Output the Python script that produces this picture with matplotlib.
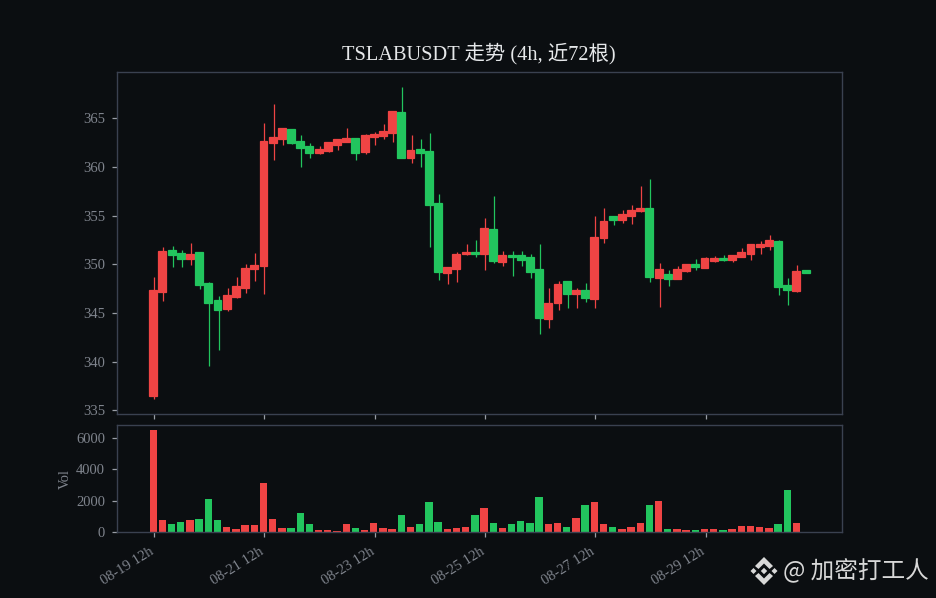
import matplotlib
matplotlib.use("Agg")
import matplotlib.pyplot as plt
from matplotlib.patches import Polygon
from matplotlib.transforms import ScaledTranslation

plt.rcParams['font.family'] = ['Liberation Serif', 'Noto Sans CJK SC', 'DejaVu Sans']

title = "TSLABUSDT 走势 (4h, 近72根)"
opens = [336.51,347.19,351.47,351.16,350.55,351.27,348.08,346.34,345.41,346.64,347.57,349.52,349.83,362.47,362.88,363.9,362.67,362.16,361.44,361.64,362.26,362.57,362.98,361.54,
         363.08,363.18,363.49,365.65,360.92,361.85,361.64,356.3,349.11,349.52,351.06,351.27,351.06,353.63,350.24,350.96,350.96,350.75,349.52,344.38,346.03,348.29,346.95,347.36,
         346.44,352.7,354.96,354.55,354.96,355.48,355.79,348.6,349.0,348.49,349.31,350.03,349.62,350.34,350.65,350.44,350.75,351.06,351.78,351.88,352.4,347.87,347.26,349.42]
closes = [347.36,351.37,350.96,350.55,351.06,347.88,346.03,345.31,346.85,347.77,349.62,349.93,362.67,363.08,364.01,362.47,361.95,361.44,361.85,362.57,362.88,362.98,361.44,363.29,
          363.39,363.7,365.75,360.92,361.75,361.44,356.1,349.21,349.73,351.06,351.27,351.06,353.73,350.34,350.96,350.75,350.45,349.21,344.49,346.03,347.98,346.95,347.36,346.54,
          352.81,354.45,354.55,355.17,355.58,355.79,348.7,349.52,348.49,349.52,350.03,349.72,350.65,350.65,350.44,350.96,351.27,352.09,352.09,352.5,347.67,347.36,349.31,349.11]
highs = [348.7,351.78,351.88,351.47,352.19,351.27,348.18,346.75,347.57,348.7,350.03,351.16,364.52,366.47,364.01,363.9,363.29,362.47,362.16,362.57,362.88,364.01,362.98,363.39,
         363.6,364.42,365.75,368.22,363.29,362.88,363.49,357.23,349.73,351.27,352.09,352.5,354.76,357.02,351.37,351.37,351.37,351.06,352.09,347.57,348.29,348.29,347.57,348.08,
         354.96,355.79,354.96,355.58,356.09,358.05,358.77,350.14,349.42,349.83,350.03,350.55,350.75,350.85,350.96,350.96,351.68,352.09,352.4,353.01,352.5,348.6,349.93,349.42]
lows = [336.16,346.23,349.73,349.73,349.93,347.47,339.55,341.2,345.21,346.54,347.05,348.29,346.95,360.72,362.26,362.36,360.0,360.92,361.34,361.54,361.75,362.57,360.72,361.34,
        362.26,362.88,362.57,360.92,360.41,360.0,351.78,348.39,347.98,348.18,350.96,350.75,349.42,350.14,349.83,348.8,349.83,348.6,342.84,343.46,345.31,345.51,345.51,346.13,
        345.51,352.19,354.04,354.24,354.14,355.38,348.18,345.61,347.77,348.49,349.21,349.42,349.62,350.24,350.34,350.24,350.75,350.44,351.06,351.47,346.85,345.82,347.16,349.11]
volumes = [6530,790,530,660,790,850,2130,790,340,210,470,470,3150,850,280,280,1230,530,150,150,85,530,280,150,
           600,280,210,1110,340,530,1940,660,210,280,340,1110,1550,600,280,530,720,600,2260,530,600,340,915,1745,
           1940,530,340,210,340,600,1745,2000,210,210,150,150,210,210,150,210,400,400,340,280,530,2700,600,0]
x_tick_idx = [0,12,24,36,48,60]
x_tick_labels = ["08-19 12h","08-21 12h","08-23 12h","08-25 12h","08-27 12h","08-29 12h"]
price_ticks = [335,340,345,350,355,360,365]
vol_ticks = [0,2000,4000,6000]

BG = "#0b0e11"; RED = "#ef4444"; GREEN = "#22c55e"; SPINE = "#3a4150"; TXT = "#7f848d"; W, H = 936, 598

fig = plt.figure(figsize=(W/100, H/100), dpi=100, facecolor=BG)
ax = fig.add_axes([117/W, 1-414/H, 725/W, 342/H], facecolor=BG)
axv = fig.add_axes([117/W, 1-532.3/H, 725/W, 106.8/H], facecolor=BG)

xs = list(range(len(opens)))
colors = [RED if c >= o else GREEN for o, c in zip(opens, closes)]
body_shift = ScaledTranslation(-1/100, 0, fig.dpi_scale_trans)
ax.vlines(xs, lows, highs, colors=colors, linewidth=0.9, zorder=2)
ax.bar(xs, [abs(c-o) for o, c in zip(opens, closes)], bottom=[min(o, c) for o, c in zip(opens, closes)],
       width=0.86, color=colors, edgecolor=colors, linewidth=0.9, zorder=3, transform=ax.transData + body_shift)
axv.bar(xs, volumes, width=0.8, color=colors, linewidth=0, transform=axv.transData + body_shift)

for a in (ax, axv):
    a.set_xlim(-4.05, 74.85)
    for s in a.spines.values():
        s.set_color(SPINE); s.set_linewidth(1.0)
    a.tick_params(colors=TXT, color="#9a9ea6", labelsize=10.5, width=0.9, length=3.5)
    a.tick_params(axis='y', pad=5)
    a.set_xticks(x_tick_idx)
ax.set_ylim(334.62, 369.76)
ax.set_yticks(price_ticks)
ax.set_xticklabels([])
axv.set_ylim(0, 6785)
axv.set_yticks(vol_ticks)
axv.set_xticklabels(x_tick_labels, rotation=32, ha="right", rotation_mode="anchor")
lab_shift = ScaledTranslation(-5/100, -3/100, fig.dpi_scale_trans)
for t in axv.get_xticklabels():
    t.set_transform(t.get_transform() + lab_shift)
axv.set_ylabel("Vol", color=TXT, fontsize=10.5, labelpad=3)
fig.text(479/W, 1-54/H, title, color="#e6e8ea", fontsize=14.7, ha="center", va="center")

# watermark
fig.text(783/W, 1-571/H, "@ 加密打工人", color="#d8d8d8", fontsize=17, ha="left", va="center",
         family=['Noto Sans CJK SC', 'DejaVu Sans'])
cx, cy = 764, 571
def dia(dx, dy, r):
    x0, y0 = cx+dx, cy+dy
    return Polygon([((x0-r)/W, 1-y0/H), (x0/W, 1-(y0-r)/H), ((x0+r)/W, 1-y0/H), (x0/W, 1-(y0+r)/H)],
                   transform=fig.transFigure, facecolor="#d8d8d8", edgecolor="none")
for dx, dy, r in [(0,0,3.2),(-10.5,0,3),(10.5,0,3)]:
    fig.add_artist(dia(dx, dy, r))
for pts in ([(-9,-5),(0,-14),(9,-5),(5.5,-2),(0,-7.5),(-5.5,-2)],
            [(-9,5),(0,14),(9,5),(5.5,2),(0,7.5),(-5.5,2)]):
    fig.add_artist(Polygon([((cx+a)/W, 1-(cy+b)/H) for a, b in pts], transform=fig.transFigure,
                           facecolor="#d8d8d8", edgecolor="none"))

fig.savefig("out.png", dpi=100, facecolor=BG)
